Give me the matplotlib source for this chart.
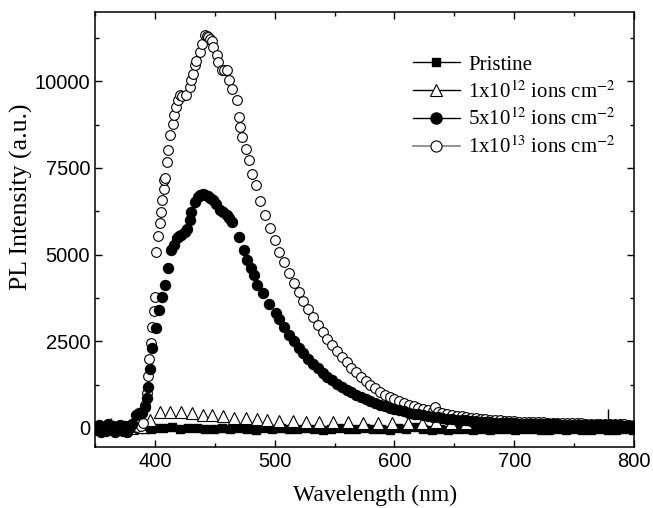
import matplotlib
matplotlib.use("Agg")
import matplotlib.pyplot as plt
from matplotlib.lines import Line2D

plt.rcParams['mathtext.fontset'] = 'stix'

# ---------------- data ----------------
pristine_wl = [352, 355, 358, 361, 364, 367, 370, 373, 376, 379, 382, 385, 388, 391, 394, 397, 400,
               407, 414, 421, 428, 435, 442, 449, 456, 463, 470, 477, 484, 491, 498, 505, 512, 519,
               526, 533, 540, 547, 554, 561, 568, 575, 582, 589, 596, 603, 610, 617, 624, 631, 638,
               645, 652, 659, 666, 673, 680, 687, 694, 701, 708, 715, 722, 729, 736, 743, 750, 757,
               764, 771, 778, 785, 792, 799]
pristine_I = [-10, 20, -30, 10, -20, 30, -40, 0, -20, 10,
              -30, 20, -10, -40, 0, -30, 10, 0, 20, -30,
              -10, 10, -40, -20, 0, -30, 10, -20, -50, -10,
              -30, 0, -40, -20, 10, -30, -50, -20, -10, -40,
              -20, 0, -30, -20, -50, -10, -30, 20, -40, -60,
              -30, -50, -20, -40, -60, -30, -50, -40, -20, -60,
              -40, -30, -60, -50, -40, -60, -30, -50, -70, -40,
              -50, -60, -40, -50]

tri_wl = [353, 360, 367, 374, 381, 388, 396, 404, 413, 422, 431, 440, 448, 457, 466, 476, 485,
          494, 504, 515, 526, 537, 549, 561, 574, 586, 598, 611, 623, 635, 647, 660]
tri_I = [0, 10, -10, 0, 10, 20, 230, 470, 470, 450, 430, 380, 370, 330, 300, 280, 260,
         240, 210, 190, 180, 180, 170, 160, 150, 140, 135, 140, 150, 180, 150, 140]

filled_wl = [351, 353, 355, 357, 359, 361, 363, 365, 367, 369, 371, 373, 375, 377, 379, 381,
             384, 387, 389.5, 392, 393.7,
             394.5, 396, 398, 400.8, 403.6, 405.6, 408.5, 411.3, 413.6, 416, 418.6, 420, 422, 425,
             427, 429, 430.5, 433.3, 436, 438, 440.4, 442, 444, 446, 448.9, 451, 454, 457, 460,
             462, 464, 470, 474, 477, 480, 482.8, 485.6, 490, 495.5, 501,
             504, 508, 512, 516, 520, 524, 528, 532, 536, 540, 544, 548, 552, 556, 560, 564,
             568, 572, 576, 580, 584, 588, 592, 596, 600, 604, 608, 612, 616, 620, 624, 628,
             632, 636, 640, 644, 648, 652, 656, 660, 664, 668, 672, 676, 680, 684, 688, 692,
             696, 700, 704, 708, 712, 716, 720, 724, 728, 732, 736, 740, 744, 748, 752, 756,
             760, 764, 768, 772, 776, 780, 784, 788, 792, 796, 800]
filled_I = [-60, 80, -120, 40, -90, 100, -40, 60, -130, 20, 90, -80, 50, -110, 30, 120,
            380, 420, 430, 600, 860,
            1190, 1700, 2300, 2880, 3400, 3790, 4120, 4600, 5130, 5270, 5470, 5530, 5560, 5650,
            5750, 6000, 6240, 6530, 6650, 6720, 6760, 6720, 6680, 6620, 6570, 6450, 6280, 6220, 6140,
            6050, 5950, 5520, 5130, 4840, 4600, 4410, 4120, 3880, 3590, 3310,
            3130, 2900, 2690, 2495, 2315, 2150, 1995, 1850, 1720, 1595, 1480, 1375, 1280, 1190, 1105, 1030,
            955, 890, 825, 770, 720, 670, 625, 585, 545, 510, 475, 445, 415, 390, 365, 345,
            325, 305, 285, 270, 250, 240, 225, 215, 205, 190, 180, 170, 165, 155, 150, 140,
            135, 130, 125, 122, 119, 116, 113, 110, 107, 104, 101, 98, 95, 92, 90, 88,
            86, 84, 82, 80, 78, 76, 74, 72, 70, 68, 66]

open_wl = [352, 355, 358, 361, 364, 367, 370, 373, 376, 379, 382, 385, 388, 390, 391.5, 393,
           394.5, 395.5, 396.6, 398, 398.9, 400, 400.8, 402.8, 404.5, 405, 405.6, 407.4, 407.9,
           408.5, 410, 411.2, 412.9, 414.9, 416.3, 417.8, 419, 420.6, 423, 426.3, 429, 430.5,
           431.9, 433.3, 434.7, 437.5, 439.5, 441.8, 443.2, 444.6, 446, 447.5, 448.9, 451.7,
           453.1, 456, 458, 460, 461.6, 464.4, 468.6, 470, 471.4, 472.9, 475.7, 478.5, 481.4,
           484, 488, 492, 496, 500, 504, 508, 512, 516, 520, 524, 528, 532, 536, 540, 544,
           548, 552, 556, 560, 564, 568, 572, 576, 580, 584, 588, 592, 596, 600, 604, 608,
           612, 616, 620, 624, 628, 632, 634, 636, 640, 644, 648, 652, 656, 660, 664, 668,
           672, 676, 680, 684, 688, 692, 696, 700, 704, 708, 712, 716, 720, 724, 728, 732,
           736, 740, 744, 748, 752, 756, 760, 764, 768, 772, 776, 780, 784, 788, 792, 796, 800]
open_I = [20, -20, 10, -10, 30, 0, -20, 10, 0, -10, 20, 40, 50, 150, 660, 1000,
          1500, 2000, 2460, 2920, 3360, 3790, 5090, 5530, 5920, 6240, 6570, 6890, 7147,
          7200, 7670, 8010, 8440, 8780, 9020, 9260, 9450, 9600, 9580, 9600, 9840, 10030,
          10220, 10460, 10600, 10850, 11080, 11330, 11300, 11280, 11220, 11150, 11000, 10750,
          10570, 10320, 10330, 10320, 10030, 9790, 9450, 8970, 8690, 8400, 8060, 7720, 7340,
          7000, 6560, 6150, 5770, 5420, 5090, 4780, 4480, 4190, 3920, 3660, 3420, 3190, 2970, 2770, 2570,
          2390, 2210, 2050, 1890, 1740, 1600, 1470, 1350, 1240, 1140, 1040, 960, 890, 825, 765, 710,
          665, 625, 580, 545, 510, 480, 610, 450, 420, 400, 370, 350, 330, 310, 295, 275,
          260, 250, 240, 225, 215, 205, 195, 190, 185, 180, 175, 170, 165, 160, 156, 152,
          148, 144, 140, 136, 132, 128, 124, 120, 117, 114, 111, 108, 105, 102, 100, 98, 96]

spike_wl = [351, 363.6, 778]
spike_top = [180, 290, 550]

labels = ["Pristine",
          "1x10$^{12}$ ions cm$^{-2}$",
          "5x10$^{12}$ ions cm$^{-2}$",
          "1x10$^{13}$ ions cm$^{-2}$"]

x_ticks = [400, 500, 600, 700, 800]
y_ticks = [0, 2500, 5000, 7500, 10000]

# ---------------- figure ----------------
fig = plt.figure(figsize=(6.53, 5.08), dpi=100)
ax = fig.add_axes([95/653, 61/508, (634-95)/653, (447-12)/508])

ax.vlines(spike_wl, 0, spike_top, color='black', lw=1.0, zorder=1)
ax.plot(pristine_wl, pristine_I, ls='none', marker='s', ms=5.5, mfc='black', mec='black', zorder=2)
ax.plot(tri_wl, tri_I, ls='none', marker='^', ms=8, mfc='white', mec='black', mew=0.8, zorder=3)
ax.plot(open_wl, open_I, ls='none', marker='o', ms=7, mfc='white', mec='black', mew=0.8, zorder=4)
ax.plot(filled_wl, filled_I, ls='none', marker='o', ms=7.2, mfc='black', mec='black', zorder=5)

ax.set_xlim(350, 800)
ax.set_ylim(-550, 12000)
ax.set_xticks(x_ticks)
ax.set_yticks(y_ticks)
ax.set_xticks([350, 450, 550, 650, 750], minor=True)
ax.set_yticks([1250, 3750, 6250, 8750, 11250], minor=True)
ax.tick_params(which='both', direction='in', top=True, right=True, width=1.0)
ax.tick_params(which='major', length=5)
ax.tick_params(which='minor', length=3)
ax.tick_params(labeltop=False, labelright=False)
for lab in ax.get_xticklabels() + ax.get_yticklabels():
    lab.set_fontfamily('Liberation Sans')
    lab.set_fontsize(14.5)
for sp in ax.spines.values():
    sp.set_linewidth(1.1)

ax.set_xlabel("Wavelength (nm)", fontfamily='Liberation Serif', fontsize=17)
ax.xaxis.set_label_coords(0.52, -0.088)
ax.set_ylabel("PL Intensity (a.u.)", fontfamily='Liberation Serif', fontsize=18.5)
ax.yaxis.set_label_coords(-0.115, 0.575)

handles = [
    Line2D([], [], color='black', lw=1.0, marker='s', ms=6, mfc='black', mec='black'),
    Line2D([], [], color='black', lw=1.0, marker='^', ms=8, mfc='white', mec='black', mew=0.8),
    Line2D([], [], color='black', lw=1.0, marker='o', ms=8, mfc='black', mec='black'),
    Line2D([], [], color='#808080', lw=1.2, marker='o', ms=8, mfc='white', mec='black', mew=0.8),
]
leg = ax.legend(handles, labels, loc='upper left', bbox_to_anchor=(413/653, 1 - 55/508),
                bbox_transform=fig.transFigure, frameon=False, borderpad=0, borderaxespad=0,
                handlelength=2.25, handletextpad=0.4, labelspacing=0.3,
                prop={'family': 'Liberation Serif', 'size': 15})

fig.savefig("out.png", dpi=100)
